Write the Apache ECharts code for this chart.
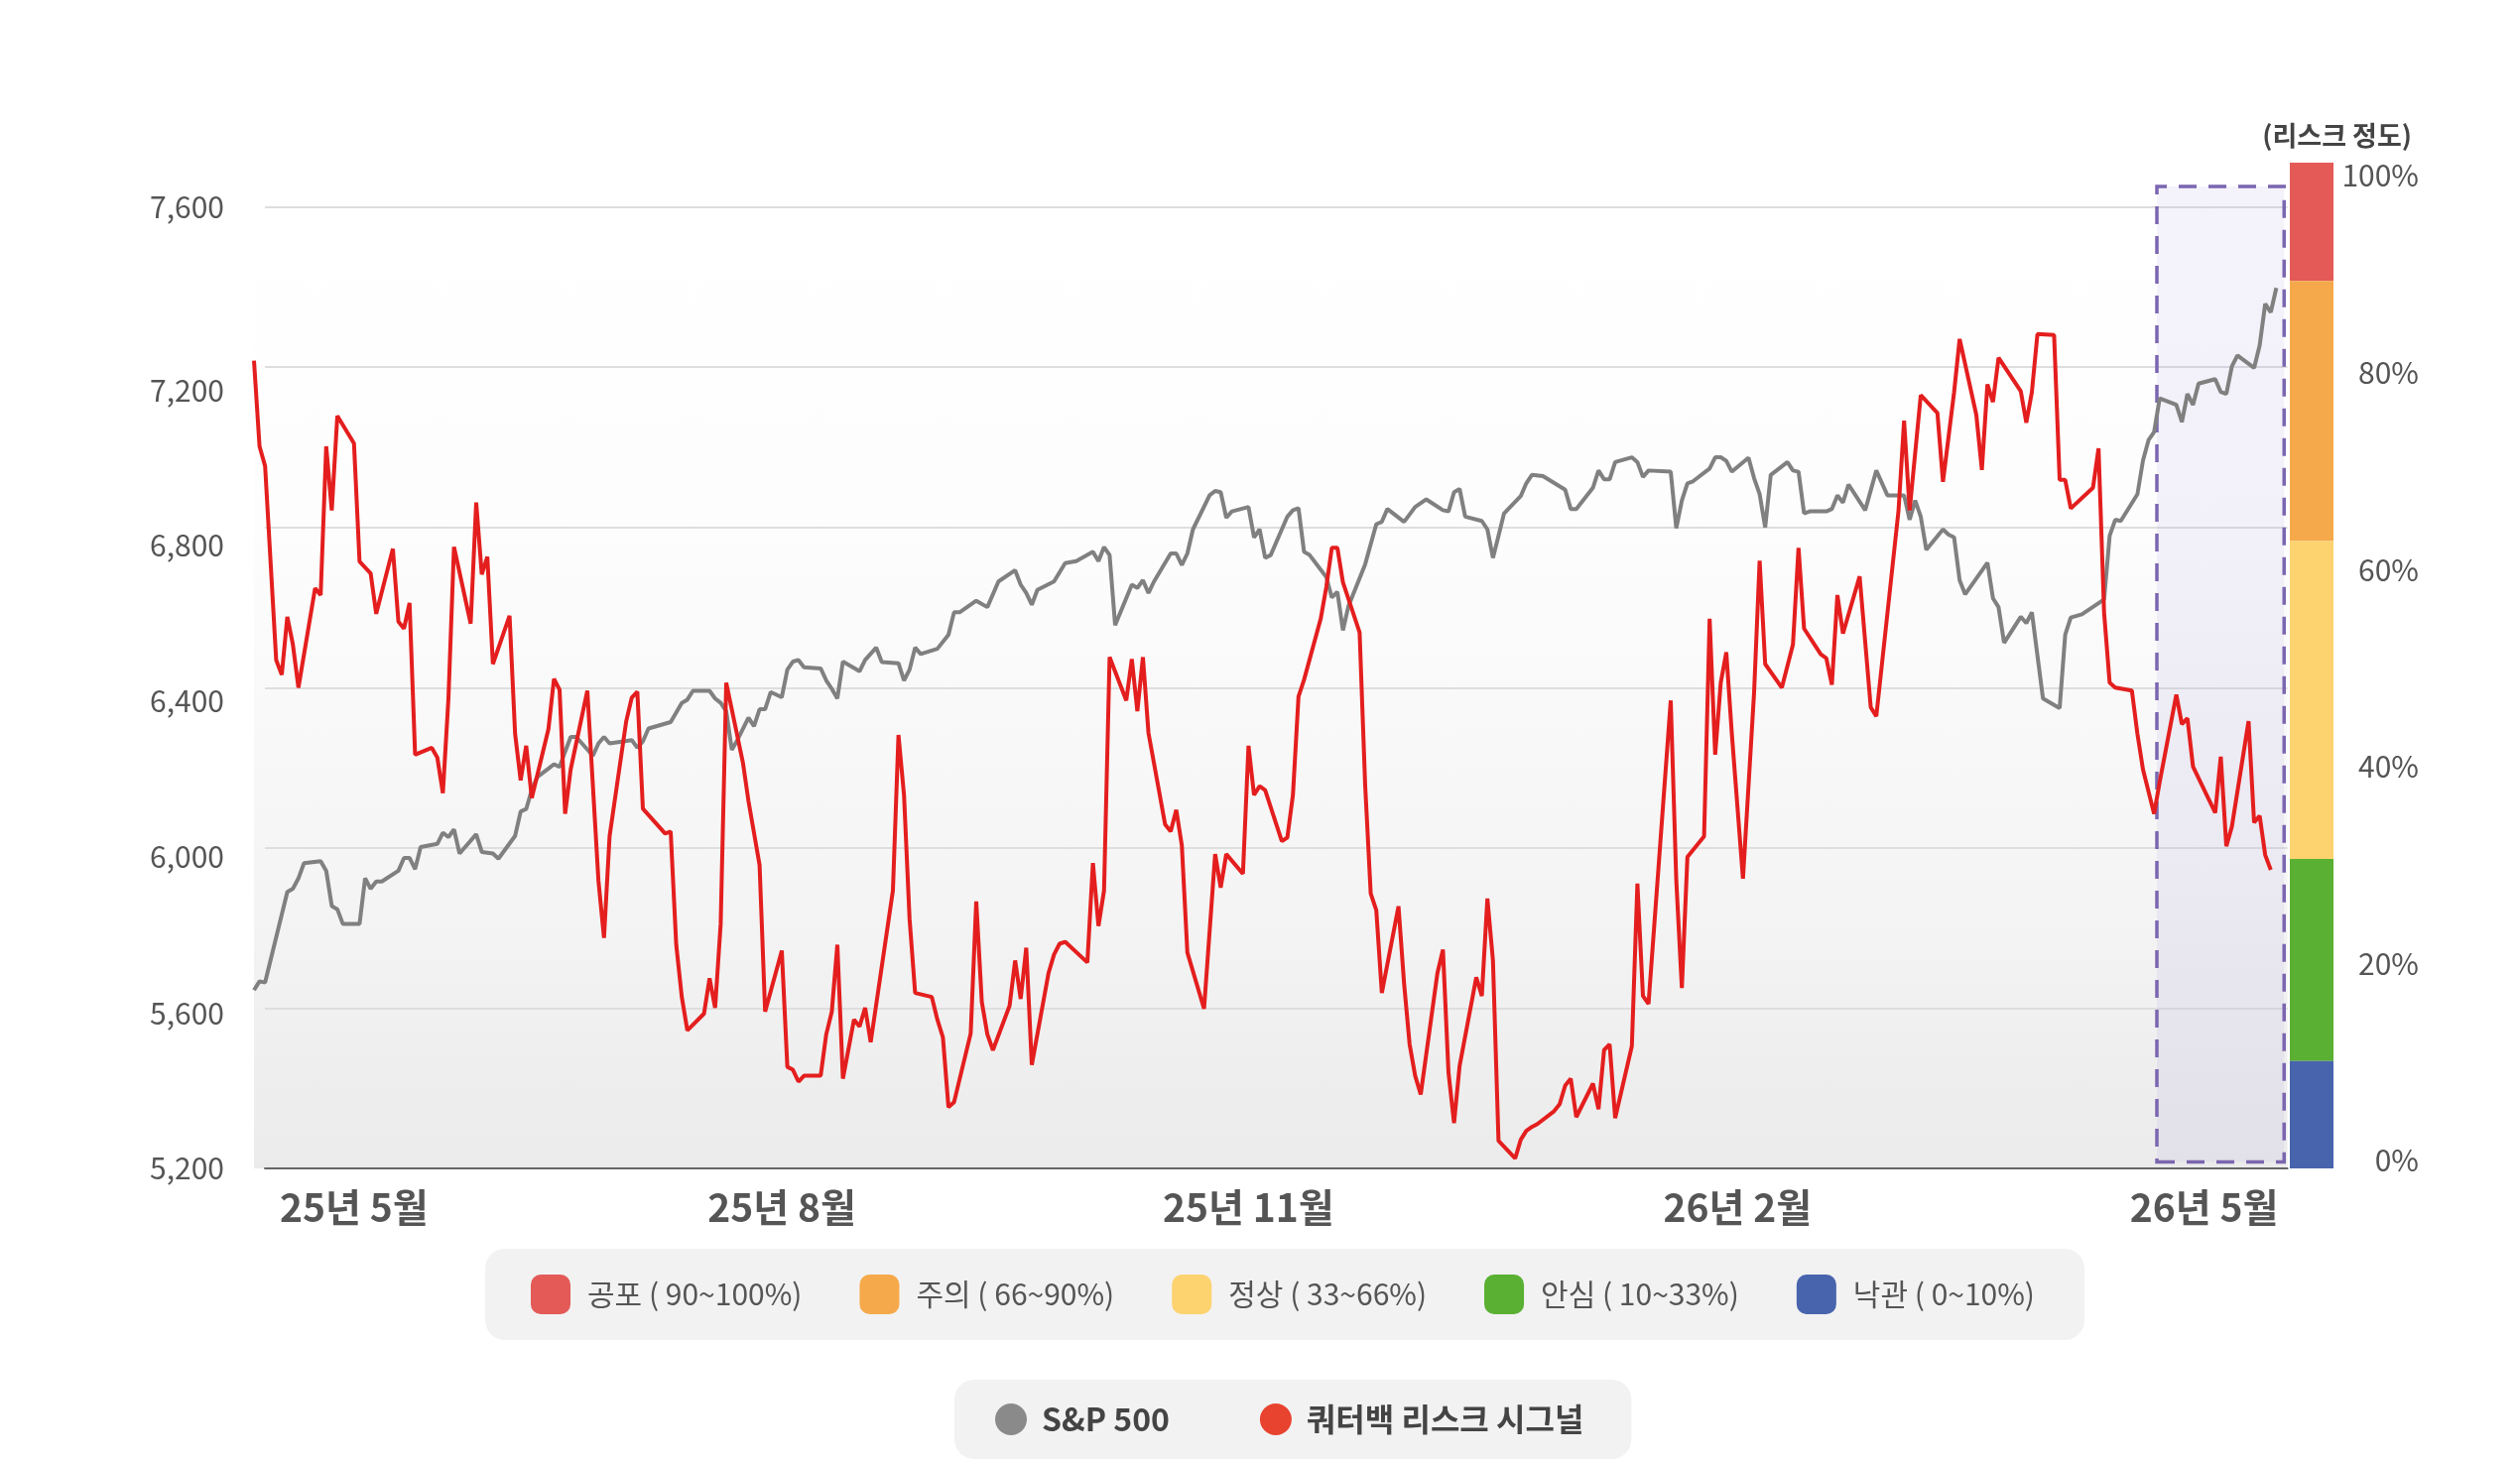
<!DOCTYPE html>
<html>
<head>
<meta charset="utf-8">
<script src="https://cdn.jsdelivr.net/npm/echarts@6/dist/echarts.min.js"></script>
<style>
  html, body { margin: 0; padding: 0; background: #fff; }
  #chart { width: 2540px; height: 1473px; }
</style>
</head>
<body>
<div id="chart"></div>
<script>
// [day index, S&P 500 close]
const spx = [[0,5645],[1,5667],[2,5664],[6,5890],[7,5898],[8,5924],[9,5962],[12,5967],[13,5943],[14,5855],[15,5847],[16,5810],[19,5810],[20,5924],[21,5898],[22,5916],[23,5916],[26,5943],[27,5975],[28,5975],[29,5947],[30,6002],[33,6010],[34,6038],[35,6027],[36,6046],[37,5986],[40,6034],[41,5990],[43,5986],[44,5973],[47,6030],[48,6091],[49,6097],[50,6145],[51,6177],[53,6198],[54,6209],[55,6202],[56,6240],[57,6277],[58,6277],[61,6230],[62,6261],[63,6277],[64,6261],[68,6269],[69,6250],[70,6266],[71,6298],[75,6314],[77,6362],[78,6370],[79,6392],[82,6392],[83,6373],[84,6362],[85,6341],[86,6245],[87,6269],[89,6325],[90,6304],[91,6346],[92,6346],[93,6389],[95,6376],[96,6445],[97,6465],[98,6469],[99,6451],[102,6448],[103,6418],[104,6397],[105,6373],[106,6465],[107,6457],[109,6441],[110,6469],[112,6500],[113,6464],[116,6461],[117,6418],[118,6445],[119,6500],[120,6484],[123,6497],[125,6532],[126,6588],[127,6588],[130,6617],[132,6601],[134,6665],[137,6693],[138,6657],[139,6636],[140,6607],[141,6644],[144,6665],[146,6711],[148,6716],[151,6739],[152,6716],[153,6751],[154,6731],[155,6556],[158,6657],[159,6649],[160,6668],[161,6636],[162,6665],[165,6735],[166,6735],[167,6706],[168,6735],[169,6795],[172,6880],[173,6891],[174,6888],[175,6824],[176,6840],[179,6851],[180,6775],[181,6795],[182,6724],[183,6731],[186,6827],[187,6843],[188,6848],[189,6739],[190,6731],[193,6676],[194,6625],[195,6639],[196,6543],[197,6604],[200,6708],[202,6808],[203,6814],[204,6846],[207,6814],[209,6851],[211,6870],[214,6843],[215,6840],[216,6888],[217,6896],[218,6827],[221,6816],[222,6795],[223,6724],[224,6779],[225,6835],[228,6878],[229,6910],[230,6931],[232,6928],[236,6894],[237,6846],[238,6846],[241,6899],[242,6942],[243,6920],[244,6920],[245,6963],[248,6975],[249,6963],[250,6926],[251,6942],[255,6939],[256,6798],[257,6867],[258,6910],[259,6915],[262,6947],[263,6975],[264,6975],[265,6966],[266,6939],[269,6974],[270,6923],[271,6883],[272,6800],[273,6931],[276,6963],[277,6942],[278,6939],[279,6835],[280,6840],[283,6840],[284,6846],[285,6880],[286,6862],[287,6907],[290,6843],[292,6942],[294,6880],[297,6880],[298,6819],[299,6867],[300,6827],[301,6744],[304,6795],[305,6782],[306,6775],[307,6668],[308,6633],[312,6712],[313,6623],[314,6601],[315,6512],[318,6577],[319,6561],[320,6588],[322,6373],[325,6349],[326,6532],[327,6575],[329,6583],[333,6620],[334,6779],[335,6819],[336,6816],[339,6883],[340,6967],[341,7018],[342,7038],[343,7122],[346,7106],[347,7063],[348,7133],[349,7106],[350,7159],[353,7170],[354,7138],[355,7133],[356,7202],[357,7229],[360,7198],[361,7254],[362,7358],[363,7337],[364,7398]];

// [day index, risk signal %]
const risk = [[0,81.2],[1,72.5],[2,70.5],[4,50.8],[5,49.3],[6,55.2],[7,52.4],[8,48.0],[11,58.1],[12,57.4],[13,72.5],[14,66.0],[15,75.6],[18,72.8],[19,60.8],[21,59.6],[22,55.5],[25,62.1],[26,54.7],[27,54.0],[28,56.6],[29,41.2],[32,41.9],[33,40.9],[34,37.3],[35,46.9],[36,62.3],[39,54.5],[40,66.8],[41,59.5],[42,61.3],[43,50.4],[46,55.3],[47,43.3],[48,38.6],[49,42.1],[50,36.8],[53,43.8],[54,48.9],[55,47.8],[56,35.2],[57,39.7],[60,47.7],[62,28.4],[63,22.6],[64,32.9],[67,44.6],[68,47.0],[69,47.6],[70,35.7],[74,33.2],[75,33.4],[76,21.9],[77,16.6],[78,13.2],[81,14.9],[82,18.5],[83,15.5],[84,24.0],[85,48.5],[88,40.4],[89,36.5],[91,30.0],[92,15.1],[95,21.3],[96,9.5],[97,9.2],[98,8.0],[99,8.6],[102,8.6],[103,12.8],[104,15.1],[105,21.9],[106,8.3],[108,14.3],[109,13.6],[110,15.5],[111,12.0],[115,27.4],[116,43.2],[117,37.1],[118,24.5],[119,17.0],[122,16.6],[123,14.3],[124,12.5],[125,5.4],[126,5.9],[129,12.9],[130,26.3],[131,16.1],[132,12.8],[133,11.2],[136,15.7],[137,20.3],[138,16.4],[139,21.6],[140,9.7],[143,19.0],[144,20.9],[145,22.0],[146,22.2],[150,20.1],[151,30.2],[152,23.8],[153,27.4],[154,51.1],[157,46.7],[158,50.9],[159,45.6],[160,51.1],[161,43.4],[164,34.1],[165,33.4],[166,35.6],[167,32.0],[168,21.1],[171,15.4],[173,31.1],[174,27.7],[175,31.1],[178,29.1],[179,42.1],[180,37.1],[181,38.0],[182,37.6],[185,32.4],[186,32.8],[187,37.1],[188,47.1],[189,48.8],[192,55.0],[193,58.2],[194,62.2],[195,62.2],[196,58.7],[199,53.6],[200,38.1],[201,27.1],[202,25.4],[203,17.0],[206,25.8],[207,18.0],[208,11.8],[209,8.6],[210,6.7],[213,19.0],[214,21.4],[215,8.9],[216,3.8],[217,9.6],[220,18.6],[221,16.7],[222,26.6],[223,20.3],[224,2.0],[227,0.2],[228,2.1],[229,3.0],[230,3.4],[231,3.7],[234,5.0],[235,5.7],[236,7.6],[237,8.3],[238,4.4],[241,7.8],[242,5.2],[243,11.2],[244,11.8],[245,4.3],[248,11.6],[249,28.1],[250,16.7],[251,15.9],[255,46.7],[256,28.4],[257,17.5],[258,30.8],[261,32.9],[262,55.0],[263,41.2],[264,48.5],[265,51.6],[266,43.3],[268,28.6],[270,47.5],[271,60.9],[272,50.4],[275,48.0],[277,52.4],[278,62.2],[279,54.0],[282,51.4],[283,51.0],[284,48.3],[285,57.4],[286,53.5],[289,59.3],[291,46.0],[292,45.1],[296,66.0],[297,75.1],[298,66.0],[300,77.7],[303,75.9],[304,68.9],[306,78.0],[307,83.4],[310,75.7],[311,70.1],[312,78.8],[313,77.0],[314,81.5],[318,78.1],[319,74.9],[320,78.0],[321,83.9],[324,83.8],[325,69.1],[326,69.1],[327,66.2],[331,68.3],[332,72.3],[333,55.6],[334,48.5],[335,48.0],[338,47.7],[339,43.3],[340,39.7],[342,35.2],[343,38.4],[346,47.3],[347,44.3],[348,44.9],[349,40.0],[353,35.3],[354,41.0],[355,31.9],[356,33.9],[359,44.6],[360,34.3],[361,35.0],[362,31.0],[363,29.5]];

const monthTickDays = [18, 95, 179, 267, 351];
const monthLabels = ['25년 5월', '25년 8월', '25년 11월', '26년 2월', '26년 5월'];

const riskTicks = [0, 20, 40, 60, 80, 100];
// band names, top to bottom, and the boundaries between them (in %)
const bandNames = ['공포 ( 90~100%)', '주의 ( 66~90%)', '정상 ( 33~66%)', '안심 ( 10~33%)', '낙관 ( 0~10%)'];
const bandBreaks = [89.3, 62.9, 30.6, 10.1];

// highlighted recent period (day index range)
const focusDays = [342.5, 365.4];

const FONT = "'Noto Sans CJK KR', 'Noto Sans', sans-serif";
const bandColors = ['#e35a57', '#f5a94a', '#fcd36f', '#59b032', '#4864ad'];

// risk axis extents for the plot grid and the colour bar
const RISK_PLOT = [-0.81, 98.89];
const RISK_BAR = [-0.81, 101.31];

// the left tick labels sit a little below their grid lines in the original
const labelDrop = { 5200: 0, 5600: 5, 6000: 9, 6400: 13, 6800: 18, 7200: 23, 7600: 0 };
const yRich = {};
Object.keys(labelDrop).forEach(function (k) {
    yRich['s' + k] = {
        fontFamily: FONT, fontSize: 30, color: '#555',
        padding: [labelDrop[k] * 2, 0, 0, 0]
    };
});

const bandEdges = [RISK_BAR[1]].concat(bandBreaks, [RISK_BAR[0]]);
const bandSeries = bandNames.map(function (name, i) {
    return {
        name: name,
        type: 'bar',
        xAxisIndex: 2,
        yAxisIndex: 2,
        data: [],
        itemStyle: { color: bandColors[i] },
        markArea: {
            silent: true,
            itemStyle: { color: bandColors[i] },
            data: [[{ yAxis: bandEdges[i + 1] }, { yAxis: bandEdges[i] }]]
        }
    };
});

const chart = echarts.init(document.getElementById('chart'));
chart.setOption({
    animation: false,
    textStyle: { fontFamily: FONT },
    title: {
        text: '(리스크 정도)',
        right: 104,
        top: 118,
        textStyle: { fontFamily: FONT, fontSize: 27, fontWeight: 'bold', color: '#444' }
    },
    grid: [
        {   // data grid
            left: 256, top: 188, width: 2049.6, height: 990,
            show: true, borderWidth: 0,
            backgroundColor: new echarts.graphic.LinearGradient(0, 0, 0, 1, [
                { offset: 0, color: '#ffffff' },
                { offset: 0.35, color: '#fdfdfd' },
                { offset: 0.7, color: '#f5f5f5' },
                { offset: 1, color: '#ebebeb' }
            ])
        },
        {   // visible S&P axis and grid lines
            left: 267, top: 208.6, width: 2038.6, height: 969.4
        },
        {   // colour bar
            left: 2308, top: 164, width: 44, height: 1014
        }
    ],
    xAxis: [
        {
            gridIndex: 0, type: 'value', min: 0, max: 366,
            axisLine: { show: false }, axisTick: { show: false }, splitLine: { show: false },
            axisLabel: {
                customValues: monthTickDays,
                formatter: function (v) { return monthLabels[monthTickDays.indexOf(v)] || ''; },
                fontFamily: FONT, fontSize: 39, fontWeight: 'bold', color: '#555', margin: 20
            }
        },
        {
            gridIndex: 1, type: 'value', min: 0, max: 1,
            axisLine: { show: true, onZero: false, lineStyle: { color: '#666', width: 2 } },
            axisTick: { show: false }, axisLabel: { show: false }, splitLine: { show: false }
        },
        { gridIndex: 2, type: 'value', min: 0, max: 1, show: false }
    ],
    yAxis: [
        { gridIndex: 0, type: 'value', min: 5200, max: 7651, show: false },
        { gridIndex: 0, type: 'value', min: RISK_PLOT[0], max: RISK_PLOT[1], show: false },
        {
            gridIndex: 2, type: 'value', position: 'right', min: RISK_BAR[0], max: RISK_BAR[1],
            axisLine: { show: false }, axisTick: { show: false }, splitLine: { show: false },
            axisLabel: {
                customValues: riskTicks, formatter: '{value}%',
                fontFamily: FONT, fontSize: 30, color: '#555', align: 'right', margin: 86
            }
        },
        {
            gridIndex: 1, type: 'value', min: 5200, max: 7600, interval: 400,
            axisLine: { show: false }, axisTick: { show: false },
            splitLine: { lineStyle: { color: '#dedede', width: 2 } },
            axisLabel: {
                formatter: function (v) { return '{s' + v + '|' + v.toLocaleString('en-US') + '}'; },
                rich: yRich,
                fontFamily: FONT, fontSize: 30, color: '#555', align: 'left', margin: 116
            }
        }
    ],
    legend: [
        {
            data: bandNames,
            left: 489, top: 1259,
            padding: [26, 50, 26, 46],
            backgroundColor: '#f2f2f2', borderRadius: 20,
            icon: 'roundRect', itemWidth: 40, itemHeight: 40, itemGap: 58,
            selectedMode: false,
            textStyle: { fontFamily: FONT, fontSize: 30, color: '#555', padding: [0, 0, 0, 12] }
        },
        {
            data: [
                { name: 'S&P 500', itemStyle: { color: '#8a8a8a' } },
                { name: '쿼터백 리스크 시그널', itemStyle: { color: '#e8432f' } }
            ],
            left: 962, top: 1391,
            padding: [24, 48, 24, 41],
            backgroundColor: '#f2f2f2', borderRadius: 20,
            icon: 'circle', itemWidth: 32, itemHeight: 32, itemGap: 91,
            selectedMode: false,
            textStyle: { fontFamily: FONT, fontSize: 32, fontWeight: 'bold', color: '#444', padding: [0, 0, 0, 10] }
        }
    ],
    series: [
        {
            name: 'S&P 500', type: 'line', xAxisIndex: 0, yAxisIndex: 0,
            data: spx, showSymbol: false, z: 3,
            itemStyle: { color: '#808080' },
            lineStyle: { color: '#808080', width: 4 },
            markArea: {
                silent: true,
                itemStyle: {
                    color: 'rgba(150, 130, 205, 0.10)',
                    borderColor: '#7b66b0', borderWidth: 3.5, borderType: [18, 12]
                },
                data: [[{ xAxis: focusDays[0], yAxis: 5216 }, { xAxis: focusDays[1], yAxis: 7651 }]]
            }
        },
        {
            name: '쿼터백 리스크 시그널', type: 'line', xAxisIndex: 0, yAxisIndex: 1,
            data: risk, showSymbol: false, z: 4,
            itemStyle: { color: '#e41e1e' },
            lineStyle: { color: '#e41e1e', width: 4 }
        }
    ].concat(bandSeries)
});
</script>
</body>
</html>
